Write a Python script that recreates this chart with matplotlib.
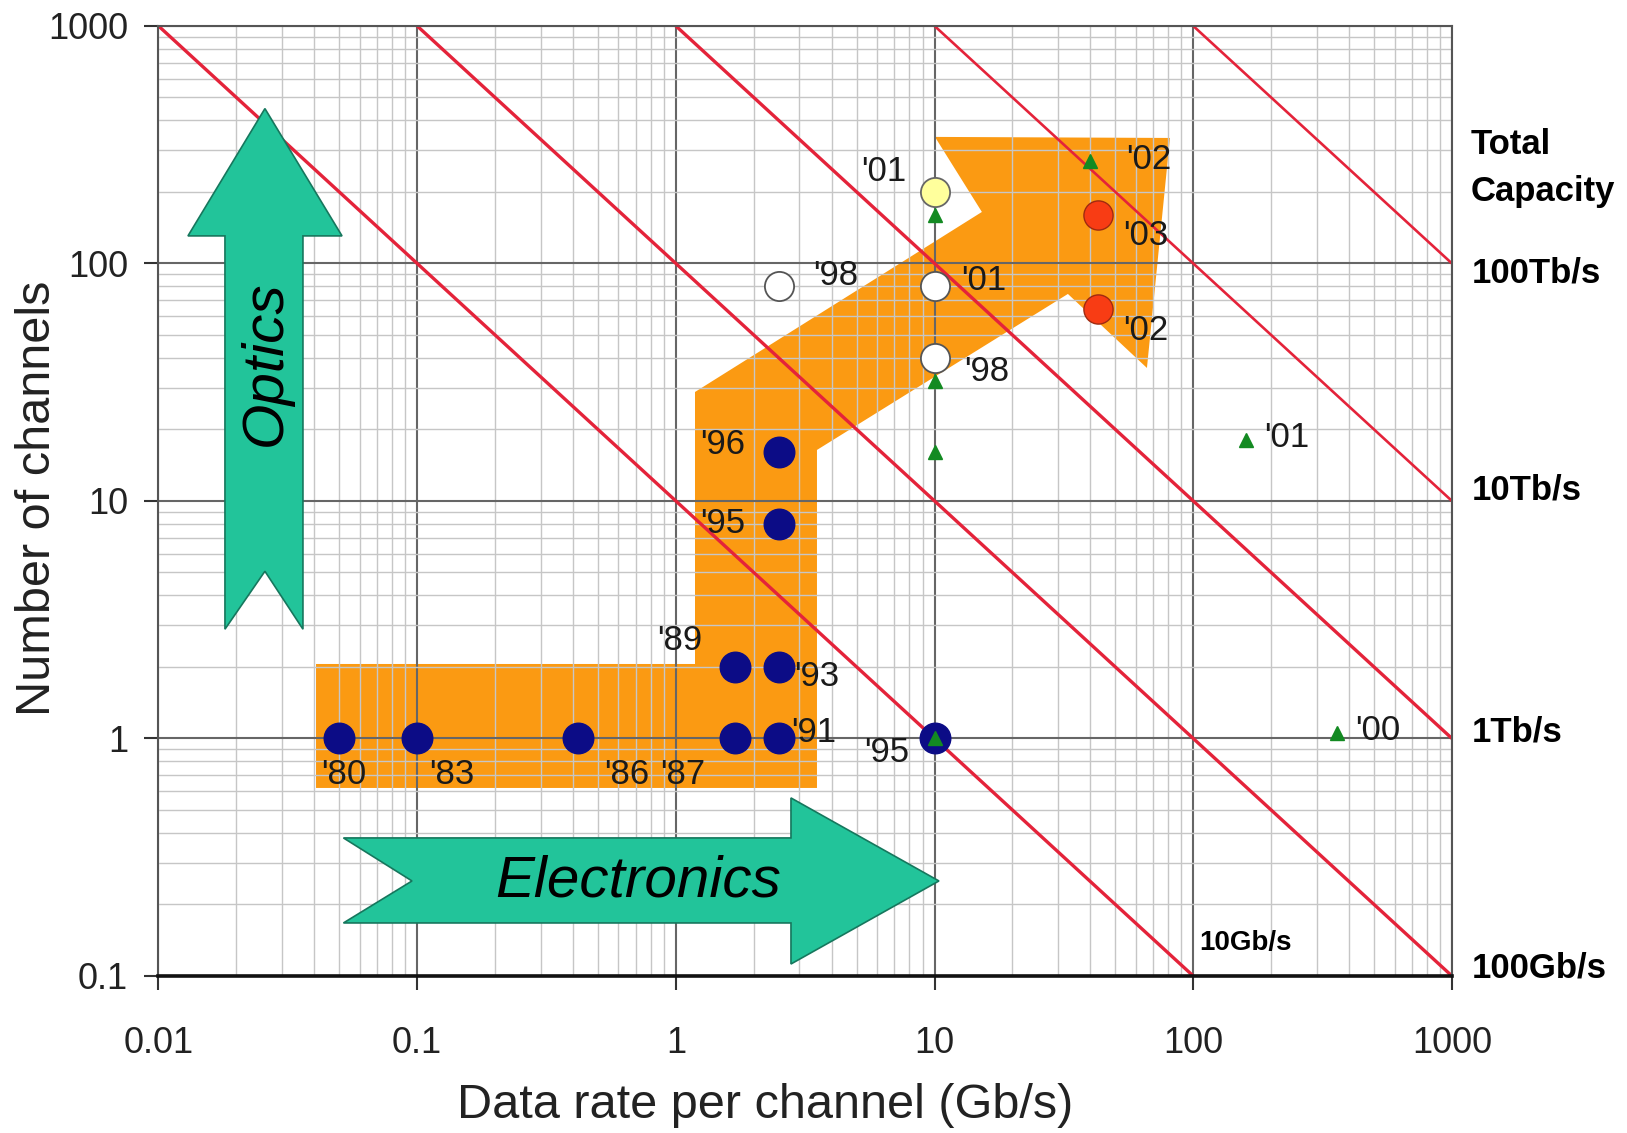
import matplotlib
matplotlib.use('Agg')
import matplotlib.pyplot as plt
from matplotlib.patches import Polygon
from matplotlib.ticker import FixedLocator, LogLocator, NullFormatter

plt.rcParams['font.family'] = ['Liberation Sans', 'DejaVu Sans']

# TDM / early WDM systems (navy dots)
tdm_rate = [0.05, 0.1, 0.42, 1.7, 2.5, 1.7, 2.5, 2.5, 2.5, 10]
tdm_chan = [1, 1, 1, 1, 1, 2, 2, 8, 16, 1]
tdm_year = ["'80", "'83", "'86", "'87", "'91", "'89", "'93", "'95", "'96", "'95"]

# DWDM systems (open dots)
wdm_rate = [2.5, 10, 10]
wdm_chan = [80, 80, 40]
wdm_year = ["'98", "'01", "'98"]

# 10G x 200ch (yellow dot)
dense_rate = [10]
dense_chan = [200]
dense_year = ["'01"]

# 40G systems (red dots)
g40_rate = [43, 43]
g40_chan = [160, 64]
g40_year = ["'03", "'02"]

# lab records (green triangles)
lab_rate = [40, 10, 10, 10, 10, 160, 360]
lab_chan = [270, 160, 32, 16, 1, 18, 1.05]
lab_year = ["'02", "", "", "", "", "'01", "'00"]

# constant total capacity lines, Gb/s
cap_gbps = [10, 100, 1000, 10000, 100000]
cap_width = [2.4, 2.4, 2.4, 1.9, 1.9]
cap_names = ['100Tb/s', '10Tb/s', '1Tb/s', '100Gb/s']
cap_chan = [100, 10, 1, 0.1]
cap_dy = [-7, 8, 5, 6]

x_ticks = [0.01, 0.1, 1, 10, 100, 1000]
x_ticklabels = ['0.01', '0.1', '1', '10', '100', '1000']
y_ticks = [0.1, 1, 10, 100, 1000]
y_ticklabels = ['0.1', '1', '10', '100', '1000']

# label offsets (points) and alignment for each group
tdm_off = [(3, -26, 'center'), (25, -26, 'center'), (35, -26, 'center'),
           (-38, -26, 'center'), (9, 4, 'left'), (-40, 19, 'center'),
           (11, -7, 'left'), (-24, 0, 'right'), (-24, 6, 'right'),
           (-18, -10, 'right')]
wdm_off = [(25, 8, 'left'), (19, 4, 'left'), (21, -10, 'left')]
dense_off = [(-20, 15, 'right')]
g40_off = [(18, -15, 'left'), (18, -15, 'left')]
lab_off = [(26, 1, 'left'), (0, 0, 'left'), (0, 0, 'left'), (0, 0, 'left'),
           (0, 0, 'left'), (13, 2, 'left'), (13, 2, 'left')]

ORANGE = '#fb9a12'
TEAL = '#22c49a'
RED = '#e4233a'

fig = plt.figure(figsize=(16.27, 11.33), dpi=100)
ax = fig.add_axes([0.0974, 0.1386, 0.795, 0.8385])
ax.set_xscale('log')
ax.set_yscale('log')
ax.set_xlim(0.01, 1000)
ax.set_ylim(0.1, 1000)

# grid
ax.xaxis.set_minor_locator(LogLocator(base=10, subs=range(2, 10)))
ax.yaxis.set_minor_locator(LogLocator(base=10, subs=range(2, 10)))
ax.xaxis.set_minor_formatter(NullFormatter())
ax.yaxis.set_minor_formatter(NullFormatter())
ax.grid(which='minor', color='#c6c6c6', lw=1.0)
ax.grid(which='major', color='#666666', lw=1.5)

# orange trend band (axes fraction)
band = [(0.1218, 0.1979), (0.1218, 0.3284), (0.4148, 0.3284), (0.4148, 0.6147),
        (0.6366, 0.8042), (0.6003, 0.8832), (0.7820, 0.8821), (0.7642, 0.6400),
        (0.7031, 0.7179), (0.5091, 0.5537), (0.5091, 0.1979)]
ax.add_patch(Polygon(band, closed=True, transform=ax.transAxes,
                     fc=ORANGE, ec='none', zorder=1))

# capacity lines
for c, w in zip(cap_gbps, cap_width):
    x0 = c / 1000
    x1 = min(1000, c / 0.1)
    ax.plot([x0, x1], [c / x0, c / x1], color=RED, lw=w, zorder=2,
            solid_capstyle='butt')

# Optics / Electronics arrows
optics = [(0.0514, 0.365), (0.0823, 0.426), (0.1117, 0.365), (0.1117, 0.779),
          (0.1419, 0.779), (0.0823, 0.913), (0.0228, 0.779), (0.0514, 0.779)]
electronics = [(0.1430, 0.1453), (0.489, 0.1453), (0.489, 0.1874), (0.6034, 0.1),
               (0.489, 0.0126), (0.489, 0.0558), (0.1430, 0.0558), (0.196, 0.1)]
for shape in (optics, electronics):
    ax.add_patch(Polygon(shape, closed=True, transform=ax.transAxes,
                         fc=TEAL, ec='#16775d', lw=1.2, zorder=3))
ax.text(0.0831, 0.645, 'Optics', transform=ax.transAxes, rotation=90,
        fontsize=42, style='italic', ha='center', va='center', zorder=3.5)
ax.text(0.3707, 0.099, 'Electronics', transform=ax.transAxes,
        fontsize=42, style='italic', ha='center', va='center', zorder=3.5)

# data points
ax.plot(tdm_rate, tdm_chan, 'o', ms=22, mfc='#0c0c86', mec='#0c0c86', zorder=4)
ax.plot(wdm_rate, wdm_chan, 'o', ms=21, mfc='white', mec='#555555', mew=1.3, zorder=4)
ax.plot(dense_rate, dense_chan, 'o', ms=21, mfc='#ffff9c', mec='#666666', mew=1.3, zorder=4)
ax.plot(g40_rate, g40_chan, 'o', ms=21, mfc='#f83c14', mec='#a02a10', mew=1.0, zorder=4)
ax.plot(lab_rate, lab_chan, '^', ms=10, mfc='#138a22', mec='#138a22', zorder=4.5)


def year_labels(rates, chans, years, offsets):
    for x, y, t, (dx, dy, ha) in zip(rates, chans, years, offsets):
        if t:
            ax.annotate(t, (x, y), xytext=(dx, dy), textcoords='offset points',
                        fontsize=25, ha=ha, va='center', color='#1a1a1a',
                        zorder=3.8)


year_labels(tdm_rate, tdm_chan, tdm_year, tdm_off)
year_labels(wdm_rate, wdm_chan, wdm_year, wdm_off)
year_labels(dense_rate, dense_chan, dense_year, dense_off)
year_labels(g40_rate, g40_chan, g40_year, g40_off)
year_labels(lab_rate, lab_chan, lab_year, lab_off)

# total capacity labels
for name, y, dy in zip(cap_names, cap_chan, cap_dy):
    ax.annotate(name, (1000, y), xytext=(14, dy), textcoords='offset points',
                fontsize=25, fontweight='bold', ha='left', va='center',
                annotation_clip=False)
ax.text(1.0147, 0.8747, 'Total', transform=ax.transAxes, fontsize=25,
        fontweight='bold', ha='left', va='center')
ax.text(1.0147, 0.8253, 'Capacity', transform=ax.transAxes, fontsize=25,
        fontweight='bold', ha='left', va='center')
ax.annotate('10Gb/s', (100, 0.1), xytext=(4, 24), textcoords='offset points',
            fontsize=20, fontweight='bold', ha='left', va='center', zorder=5)

# axes, ticks, labels
ax.xaxis.set_major_locator(FixedLocator(x_ticks))
ax.yaxis.set_major_locator(FixedLocator(y_ticks))
ax.set_xticklabels(x_ticklabels)
ax.set_yticklabels(y_ticklabels)
ax.tick_params(which='minor', length=0)
ax.tick_params(axis='x', which='major', length=10, width=1.5, color='#333333',
               labelsize=26, pad=26, labelcolor='#222222')
ax.tick_params(axis='y', which='major', length=10, width=1.5, color='#333333',
               labelsize=26, pad=12, labelcolor='#222222')
for side in ('top', 'right', 'left'):
    ax.spines[side].set_color('#555555')
    ax.spines[side].set_linewidth(1.5)
ax.spines['bottom'].set_color('#111111')
ax.spines['bottom'].set_linewidth(2.6)

ax.set_xlabel('Data rate per channel (Gb/s)', fontsize=35, color='#222222')
ax.set_ylabel('Number of channels', fontsize=35, color='#222222')
ax.xaxis.set_label_coords(0.469, -0.113)
ax.yaxis.set_label_coords(-0.076, 0.503)

fig.savefig('out.png', dpi=100, facecolor='white')
